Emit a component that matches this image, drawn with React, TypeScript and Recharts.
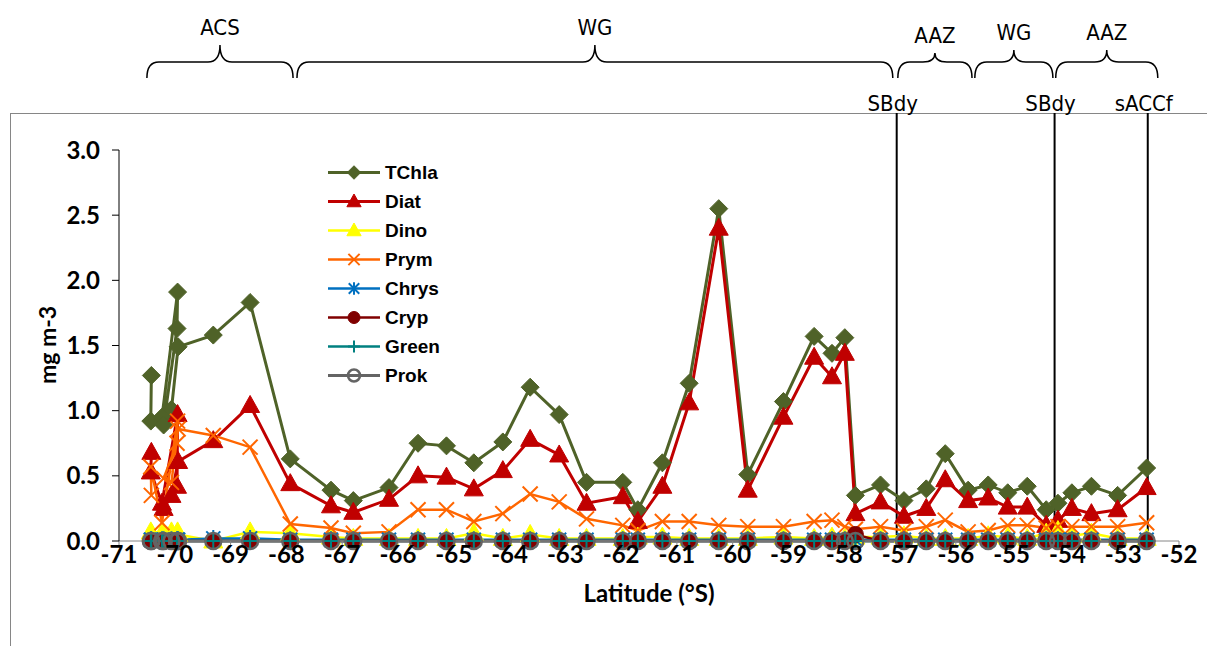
import React from 'react';
import { LineChart, Line, XAxis, YAxis, ReferenceLine } from 'recharts';

// station latitudes (°S, negative), in sampling order
const latitude = [
  -70.42, -70.43, -70.23, -69.95, -69.96, -70.2, -70.06, -69.94,
  -69.31, -68.65, -67.93, -67.2, -66.8, -66.16, -65.64, -65.13, -64.64, -64.12,
  -63.63, -63.11, -62.62, -61.97, -61.7, -61.26, -60.78, -60.25, -59.73, -59.09,
  -58.54, -58.22, -57.99, -57.8, -57.35, -56.93, -56.53, -56.19, -55.78, -55.42,
  -55.07, -54.72, -54.38, -54.17, -53.92, -53.57, -53.1, -52.58,
];
const tchla = [
  1.27, 0.92, 0.95, 1.91, 1.63, 0.89, 1.01, 1.49,
  1.58, 1.83, 0.63, 0.39, 0.31, 0.41, 0.75, 0.73, 0.6, 0.76,
  1.18, 0.97, 0.45, 0.45, 0.24, 0.6, 1.21, 2.55, 0.51, 1.07,
  1.57, 1.44, 1.56, 0.35, 0.43, 0.31, 0.4, 0.67, 0.39, 0.43,
  0.37, 0.42, 0.24, 0.29, 0.37, 0.42, 0.35, 0.56,
];
const diat = [
  0.68, 0.53, 0.29, 0.97, 0.42, 0.25, 0.35, 0.61,
  0.77, 1.04, 0.44, 0.27, 0.22, 0.32, 0.5, 0.49, 0.4, 0.54,
  0.78, 0.66, 0.29, 0.34, 0.15, 0.42, 1.06, 2.4, 0.39, 0.95,
  1.41, 1.26, 1.44, 0.21, 0.3, 0.19, 0.25, 0.47, 0.31, 0.33,
  0.26, 0.26, 0.12, 0.16, 0.25, 0.21, 0.24, 0.41,
];
const dino = [
  0.06, 0.07, 0.06, 0.07, 0.05, 0.06, 0.07, 0.05,
  0.0, 0.07, 0.06, 0.03, 0.02, 0.02, 0.02, 0.02, 0.06, 0.02,
  0.05, 0.02, 0.02, 0.02, 0.03, 0.03, 0.02, 0.02, 0.02, 0.03,
  0.02, 0.03, 0.02, 0.03, 0.03, 0.04, 0.02, 0.02, 0.02, 0.04,
  0.03, 0.02, 0.06, 0.08, 0.04, 0.06, 0.02, 0.02,
];
const prym = [
  0.35, 0.57, 0.14, 0.92, 0.75, 0.48, 0.45, 0.86,
  0.81, 0.72, 0.13, 0.1, 0.06, 0.07, 0.24, 0.24, 0.15, 0.21,
  0.36, 0.3, 0.17, 0.12, 0.08, 0.15, 0.15, 0.12, 0.11, 0.11,
  0.15, 0.16, 0.11, 0.09, 0.11, 0.08, 0.11, 0.16, 0.07, 0.08,
  0.12, 0.12, 0.1, 0.11, 0.11, 0.11, 0.11, 0.14,
];
const chrys = [
  0.01, 0.01, 0.01, 0.01, 0.01, 0.01, 0.01, 0.01,
  0.02, 0.02, 0.01, 0.01, 0.01, 0.01, 0.01, 0.01, 0.01, 0.01,
  0.01, 0.01, 0.01, 0.01, 0.01, 0.01, 0.01, 0.01, 0.01, 0.01,
  0.01, 0.01, 0.01, 0.01, 0.01, 0.01, 0.01, 0.01, 0.01, 0.01,
  0.01, 0.01, 0.01, 0.01, 0.01, 0.01, 0.01, 0.01,
];
const cryp = [
  0, 0, 0, 0, 0, 0, 0, 0,
  0, 0, 0, 0, 0, 0, 0, 0, 0, 0,
  0, 0, 0, 0, 0, 0, 0, 0, 0, 0,
  0, 0, 0, 0.05, 0, 0, 0, 0, 0, 0,
  0, 0, 0, 0, 0, 0, 0, 0,
];
const green = [
  0, 0, 0, 0, 0, 0, 0, 0,
  0, 0, 0, 0, 0, 0, 0, 0, 0, 0,
  0, 0, 0, 0, 0, 0, 0, 0, 0, 0,
  0, 0, 0, 0, 0, 0, 0, 0, 0, 0,
  0, 0, 0, 0, 0, 0, 0, 0,
];
const prok = [
  0, 0, 0, 0, 0, 0, 0, 0,
  0, 0, 0, 0, 0, 0, 0, 0, 0, 0,
  0, 0, 0, 0, 0, 0, 0, 0, 0, 0,
  0, 0, 0, 0, 0, 0, 0, 0, 0, 0,
  0, 0, 0, 0, 0, 0, 0, 0,
];

const xTicks = [-71, -70, -69, -68, -67, -66, -65, -64, -63, -62, -61, -60, -59, -58, -57, -56, -55, -54, -53, -52];
const yTicks = [0, 0.5, 1, 1.5, 2, 2.5, 3];

// water masses above the plot
const zoneNames = ['ACS', 'WG', 'AAZ', 'WG', 'AAZ'];
const zoneFrom = [-70.5, -67.81, -57.04, -55.66, -54.21];
const zoneTo = [-67.88, -57.13, -55.71, -54.26, -52.38];
// fronts
const frontNames = ['SBdy', 'SBdy', 'sACCf'];
const frontLat = [-57.06, -54.23, -52.56];

const braceBase = 3.553;
const frontTop = 3.284;
const braceHeights = [33, 33, 25, 28, 28];

const rows = latitude.map((lat, i) => ({
  lat,
  TChla: tchla[i],
  Diat: diat[i],
  Dino: dino[i],
  Prym: prym[i],
  Chrys: chrys[i],
  Cryp: cryp[i],
  Green: green[i],
  Prok: prok[i],
}));

type Kind = 'diamond' | 'triangle' | 'x' | 'star' | 'dot' | 'plus' | 'ring';

const series: { key: string; color: string; kind: Kind; width: number }[] = [
  { key: 'TChla', color: '#4F6228', kind: 'diamond', width: 3 },
  { key: 'Diat', color: '#C00000', kind: 'triangle', width: 3 },
  { key: 'Dino', color: '#FFFF00', kind: 'triangle', width: 2.5 },
  { key: 'Prym', color: '#FF6600', kind: 'x', width: 2.5 },
  { key: 'Chrys', color: '#0070C0', kind: 'star', width: 2.5 },
  { key: 'Cryp', color: '#800000', kind: 'dot', width: 2.5 },
  { key: 'Green', color: '#008080', kind: 'plus', width: 2.5 },
  { key: 'Prok', color: '#646464', kind: 'ring', width: 3 },
];

function Marker({ kind, cx, cy, color, s = 1 }: { kind: Kind; cx: number; cy: number; color: string; s?: number }) {
  if (cx == null || cy == null) return null;
  switch (kind) {
    case 'diamond': {
      const r = 9 * s;
      return <polygon points={`${cx},${cy - r} ${cx + r},${cy} ${cx},${cy + r} ${cx - r},${cy}`} fill={color} stroke={color} />;
    }
    case 'triangle':
      return (
        <polygon
          points={`${cx},${cy - 10 * s} ${cx + 9.5 * s},${cy + 7 * s} ${cx - 9.5 * s},${cy + 7 * s}`}
          fill={color}
          stroke={color}
        />
      );
    case 'x': {
      const r = 7.5 * s;
      return (
        <g stroke={color} strokeWidth={2}>
          <line x1={cx - r} y1={cy - r} x2={cx + r} y2={cy + r} />
          <line x1={cx - r} y1={cy + r} x2={cx + r} y2={cy - r} />
        </g>
      );
    }
    case 'star': {
      const r = 7 * s;
      return (
        <g stroke={color} strokeWidth={2}>
          <line x1={cx - r} y1={cy - r} x2={cx + r} y2={cy + r} />
          <line x1={cx - r} y1={cy + r} x2={cx + r} y2={cy - r} />
          <line x1={cx} y1={cy - r * 1.2} x2={cx} y2={cy + r * 1.2} />
        </g>
      );
    }
    case 'dot':
      return <circle cx={cx} cy={cy} r={8 * s} fill={color} stroke={color} />;
    case 'plus': {
      const r = 8 * s;
      return (
        <g stroke={color} strokeWidth={2}>
          <line x1={cx - r} y1={cy} x2={cx + r} y2={cy} />
          <line x1={cx} y1={cy - r} x2={cx} y2={cy + r} />
        </g>
      );
    }
    case 'ring':
      return <circle cx={cx} cy={cy} r={8 * s} fill="none" stroke={color} strokeWidth={2.5} />;
  }
  return null;
}

function Brace(props: any) {
  const { x1, y1, x2, idx } = props;
  const h = braceHeights[idx];
  const ym = y1 - 16;
  const yc = y1 - h;
  const xm = (x1 + x2) / 2;
  const d = `M${x1},${y1} Q${x1},${ym} ${x1 + 12},${ym} L${xm - 12},${ym} Q${xm},${ym} ${xm},${yc} Q${xm},${ym} ${xm + 12},${ym} L${x2 - 12},${ym} Q${x2},${ym} ${x2},${y1}`;
  return (
    <g>
      <path d={d} fill="none" stroke="#000" strokeWidth={1.5} />
      <text x={xm} y={yc - 17} textAnchor="middle" dominantBaseline="central" fontSize={22} fontFamily="DejaVu Sans Condensed, DejaVu Sans" fill="#000">
        {zoneNames[idx]}
      </text>
    </g>
  );
}

function Front(props: any) {
  const { x1, y1, x2, y2, idx } = props;
  const top = Math.min(y1, y2);
  return (
    <g>
      <line x1={x1} y1={y1} x2={x2} y2={y2} stroke="#000" strokeWidth={2} />
      <text x={x1 - 4} y={top - 9} textAnchor="middle" dominantBaseline="central" fontSize={22} fontFamily="DejaVu Sans Condensed, DejaVu Sans" fill="#000">
        {frontNames[idx]}
      </text>
    </g>
  );
}

function LegendBox() {
  return (
    <div style={{ position: 'absolute', left: 325, top: 158, fontFamily: 'Liberation Sans, Arial, sans-serif', fontWeight: 700, fontSize: 19 }}>
      {series.map((s) => (
        <div key={s.key} style={{ display: 'flex', alignItems: 'center', height: 29 }}>
          <svg width={58} height={29}>
            <line x1={3} y1={14.5} x2={55} y2={14.5} stroke={s.color} strokeWidth={s.width} />
            <Marker kind={s.kind} cx={29} cy={14.5} color={s.color} s={0.75} />
          </svg>
          <span style={{ marginLeft: 2 }}>{s.key}</span>
        </div>
      ))}
    </div>
  );
}

const tickStyle = { fill: '#000', fontSize: 24, fontWeight: 700, fontFamily: 'Lato, sans-serif' };

export default function App() {
  return (
    <div style={{ position: 'absolute', left: 0, top: 0, width: 1207, height: 646, background: '#fff', overflow: 'hidden' }}>
      <div style={{ position: 'absolute', left: 10, top: 113, right: -2, bottom: -2, borderLeft: '1px solid #868686', borderTop: '1px solid #868686' }} />
      <LineChart width={1207} height={646} data={rows} margin={{ top: 150, right: 28, bottom: 45, left: 0 }} style={{ position: 'absolute', left: 0, top: 0 }}>
        <XAxis
          type="number"
          dataKey="lat"
          domain={[-71, -52]}
          ticks={xTicks}
          allowDataOverflow
          height={60}
          tick={tickStyle}
          tickSize={5}
          tickMargin={0}
          axisLine={{ stroke: '#868686' }}
          tickLine={{ stroke: '#868686' }}
          label={{ value: 'Latitude (°S)', position: 'insideBottom', offset: -1, fill: '#000', fontSize: 24, fontWeight: 700, fontFamily: 'Lato, sans-serif' }}
        />
        <YAxis
          type="number"
          domain={[0, 3]}
          ticks={yTicks}
          width={119}
          tick={tickStyle}
          tickSize={7}
          tickMargin={12}
          tickFormatter={(v: number) => v.toFixed(1)}
          axisLine={{ stroke: '#000' }}
          tickLine={{ stroke: '#000' }}
          label={{
            content: () => (
              <text x={47} y={345} transform="rotate(-90 47 345)" textAnchor="middle" dominantBaseline="central" fontSize={23} fontWeight={700} fontFamily="Lato, sans-serif" fill="#000">
                mg m-3
              </text>
            ),
          }}
        />
        {zoneNames.map((n, i) => (
          <ReferenceLine
            key={`zone-${i}`}
            segment={[{ x: zoneFrom[i], y: braceBase }, { x: zoneTo[i], y: braceBase }]}
            ifOverflow="visible"
            shape={(p: any) => <Brace {...p} idx={i} />}
          />
        ))}
        {frontNames.map((n, i) => (
          <ReferenceLine
            key={`front-${i}`}
            segment={[{ x: frontLat[i], y: 0 }, { x: frontLat[i], y: frontTop }]}
            ifOverflow="visible"
            shape={(p: any) => <Front {...p} idx={i} />}
          />
        ))}
        {series.map((s) => (
          <Line
            key={s.key}
            dataKey={s.key}
            type="linear"
            stroke={s.color}
            strokeWidth={s.width}
            isAnimationActive={false}
            dot={(p: any) => <Marker key={`${s.key}-${p.index}`} kind={s.kind} cx={p.cx} cy={p.cy} color={s.color} />}
            activeDot={false}
          />
        ))}
      </LineChart>
      <LegendBox />
    </div>
  );
}
